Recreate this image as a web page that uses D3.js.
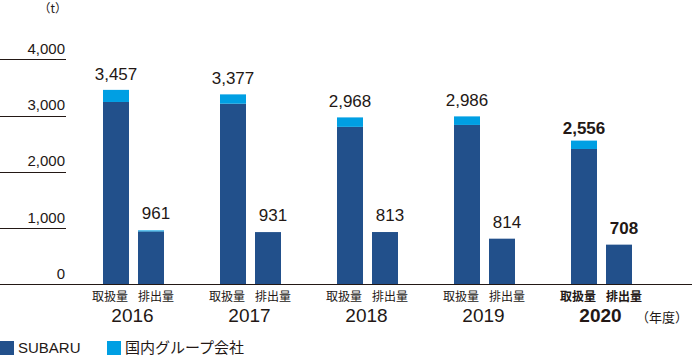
<!DOCTYPE html>
<html>
<head>
<meta charset="utf-8">
<script src="https://cdn.jsdelivr.net/npm/d3@7"></script>
<style>
  body { margin: 0; background: #fff; }
  svg { display: block; font-family: "Liberation Sans", Arial, "Noto Sans CJK JP", sans-serif; }
</style>
</head>
<body>
<div id="chart"></div>
<script>
// data
const years = ['2016', '2017', '2018', '2019', '2020'];
const kinds = ['handling', 'emission'];
const kindLabels = ['取扱量', '排出量'];
// 取扱量 (SUBARU / 国内グループ会社)
const handlingSubaru = [3242, 3211, 2800, 2834, 2407];
const handlingGroup = [215, 166, 168, 152, 149];
// 排出量 (SUBARU / 国内グループ会社)
const emissionSubaru = [943, 931, 932, 814, 708];
const emissionGroup = [18, 0, 0, 0, 0];
// printed totals
const handlingTotals = [3457, 3377, 2968, 2986, 2556];
const emissionTotals = [961, 931, 813, 814, 708];
const yTicks = [0, 1000, 2000, 3000, 4000];
const seriesNames = ['SUBARU', '国内グループ会社'];
const colors = ['#22508b', '#009fe3'];
const textColor = '#231815';
const cjk = '"Noto Sans CJK JP", sans-serif';

let width = 694, height = 355;
let svg = d3.select('#chart').append('svg')
    .attr('width', width).attr('height', height);

//比例尺
let x = d3.scaleBand().domain(years).range([75, 660]);
let xi = d3.scaleBand().domain(kinds).range([-35, 35])
    .paddingInner(9 / 35).paddingOuter(4.5 / 35);
let y = d3.scaleLinear().domain([0, 4000]).range([284.5, 59.3]);
let fmt = d3.format(',');

//网格线和刻度
yTicks.forEach(function (t) {
    if (t > 0) {
        svg.append('line')
            .attr('x1', 0).attr('x2', 66)
            .attr('y1', Math.round(y(t)) + 0.5).attr('y2', Math.round(y(t)) + 0.5)
            .attr('stroke', textColor).attr('stroke-width', 1);
    }
    svg.append('text')
        .attr('x', 65).attr('y', y(t) - 5.5)
        .attr('text-anchor', 'end')
        .attr('font-size', 15)
        .attr('fill', textColor)
        .text(fmt(t));
});
svg.append('text')
    .attr('x', 67).attr('y', 13)
    .attr('text-anchor', 'end')
    .attr('font-size', 12)
    .attr('font-family', cjk)
    .attr('fill', textColor)
    .text('（t）');

//堆叠数据
let rows = [];
years.forEach(function (yr, i) {
    rows.push({year: yr, kind: 'handling', vals: [handlingSubaru[i], handlingGroup[i]], total: handlingTotals[i], idx: i});
    rows.push({year: yr, kind: 'emission', vals: [emissionSubaru[i], emissionGroup[i]], total: emissionTotals[i], idx: i});
});

let barG = svg.append('g');
rows.forEach(function (r) {
    let x0 = x(r.year) + x.bandwidth() / 2 + xi(r.kind);
    let base = 0;
    r.vals.forEach(function (v, s) {
        if (v <= 0) return;
        barG.append('rect')
            .attr('x', x0)
            .attr('width', xi.bandwidth())
            .attr('y', y(base + v))
            .attr('height', y(base) - y(base + v))
            .attr('fill', colors[s]);
        base += v;
    });
    let bold = r.year === '2020';
    let cx = x0 + xi.bandwidth() / 2 + (r.kind === 'emission' ? 5 : 0);
    let gap = r.kind === 'emission' ? 11 : (bold ? 7 : 10);
    svg.append('text')
        .attr('x', cx)
        .attr('y', y(base) - gap)
        .attr('text-anchor', 'middle')
        .attr('font-size', 17)
        .attr('font-weight', bold ? 'bold' : 'normal')
        .attr('fill', textColor)
        .text(fmt(r.total));
});

//基线
svg.append('line')
    .attr('x1', 0).attr('x2', 692)
    .attr('y1', 284.5).attr('y2', 284.5)
    .attr('stroke', textColor).attr('stroke-width', 1);

//横轴文字
years.forEach(function (yr) {
    let bold = yr === '2020';
    let c = x(yr) + x.bandwidth() / 2;
    kinds.forEach(function (k, j) {
        svg.append('text')
            .attr('x', c + xi(k) + xi.bandwidth() / 2 + (j === 0 ? -6 : 5))
            .attr('y', 301)
            .attr('text-anchor', 'middle')
            .attr('font-size', 12)
            .attr('font-weight', bold ? 'bold' : 'normal')
            .attr('fill', textColor)
            .text(kindLabels[j]);
    });
    svg.append('text')
        .attr('x', c - 1)
        .attr('y', 322)
        .attr('text-anchor', 'middle')
        .attr('font-size', 19)
        .attr('font-weight', bold ? 'bold' : 'normal')
        .attr('fill', textColor)
        .text(yr);
});
svg.append('text')
    .attr('x', 688).attr('y', 322)
    .attr('text-anchor', 'end')
    .attr('font-size', 13)
    .attr('font-family', cjk)
    .attr('fill', textColor)
    .text('（年度）');

//图例
let legendX = [0, 107];
seriesNames.forEach(function (n, i) {
    svg.append('rect')
        .attr('x', legendX[i]).attr('y', 341)
        .attr('width', 14).attr('height', 14)
        .attr('fill', colors[i]);
    svg.append('text')
        .attr('x', legendX[i] + 18).attr('y', 352.5)
        .attr('font-size', 15)
        .attr('fill', textColor)
        .text(n);
});
</script>
</body>
</html>
